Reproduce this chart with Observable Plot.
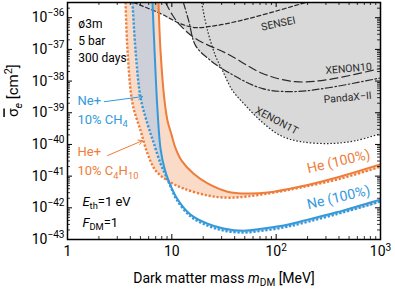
<!DOCTYPE html>
<html><head><meta charset="utf-8">
<script src="https://cdn.jsdelivr.net/npm/d3@7"></script>
<script src="https://cdn.jsdelivr.net/npm/@observablehq/plot@0.6"></script>
<style>
body{margin:0;background:#fff;}
#chart{width:395px;height:289px;}
</style></head><body><div id="chart"></div>
<script>
// ---- data (mass in MeV, log10 of cross-section in cm^2) ----
const massNeSolid = [6.53, 6.83, 7.29, 7.79, 8.51, 9.30, 11.1, 15.1, 22.0, 31.3, 48.7, 75.7, 118, 171, 371, 1000];
const logSigNeSolid = [-35.52, -37.04, -38.93, -40.13, -40.76, -41.14, -41.68, -42.21, -42.50, -42.65, -42.72, -42.65, -42.56, -42.43, -42.15, -41.74];

const massNeMix = [4.20, 4.49, 5.01, 5.72, 6.68, 7.79, 8.90, 9.72, 11.1, 15.1, 22.0, 31.3, 48.7, 75.7, 118, 171, 371, 1000];
const logSigNeMix = [-35.52, -37.04, -38.52, -39.25, -39.94, -40.60, -41.04, -41.33, -41.74, -42.27, -42.56, -42.72, -42.78, -42.72, -42.62, -42.50, -42.21, -41.80];

const massHeSolid = [7.45, 7.79, 8.51, 9.09, 9.93, 10.8, 12.4, 16.1, 22.0, 34.2, 53.2, 82.7, 171, 414, 1000];
const logSigHeSolid = [-35.52, -37.04, -38.62, -39.25, -39.69, -40.10, -40.51, -40.92, -41.23, -41.49, -41.55, -41.52, -41.33, -41.01, -40.63];

const massHeMix = [3.60, 3.76, 4.20, 5.01, 5.85, 6.98, 9.09, 12.9, 22.0, 34.2, 53.2, 94.4, 171, 414, 1000];
const logSigHeMix = [-35.52, -37.04, -38.71, -39.56, -40.29, -40.82, -41.14, -41.39, -41.61, -41.68, -41.64, -41.52, -41.36, -41.08, -40.70];

const massSENSEI = [4.29, 7.79, 12.1, 16.9, 26.2, 45.6, 88.4, 191];
const logSigSENSEI = [-35.52, -35.87, -36.19, -36.31, -36.25, -36.09, -35.84, -35.52];

const massXENON10 = [8.70, 10.2, 12.1, 16.9, 35.0, 74.1, 153, 318, 1000];
const logSigXENON10 = [-35.52, -35.93, -36.25, -36.66, -37.16, -37.76, -38.02, -37.95, -37.60];

const massPandaX = [12.9, 14.5, 16.9, 23.5, 35.0, 74.1, 153, 318, 1000];
const logSigPandaX = [-35.52, -36.09, -36.88, -37.35, -37.73, -38.24, -38.33, -38.21, -37.90];

const massXENON1T = [19.3, 22.0, 26.2, 30.6, 38.2, 50.9, 70.8, 110, 171, 332, 577, 1000];
const logSigXENON1T = [-35.52, -36.41, -37.20, -37.67, -38.30, -38.77, -39.25, -39.72, -39.91, -39.97, -39.88, -39.66];

const xMajor = [1, 10, 100, 1000];
const yMajorExp = [-43, -42, -41, -40, -39, -38, -37, -36];

// ---- build tables ----
const rows = (ms, ls) => ms.map((m, i) => ({m, s: Math.pow(10, ls[i])}));
const neSolid = rows(massNeSolid, logSigNeSolid);
const neMix = rows(massNeMix, logSigNeMix);
const heSolid = rows(massHeSolid, logSigHeSolid);
const heMix = rows(massHeMix, logSigHeMix);
const sensei = rows(massSENSEI, logSigSENSEI);
const xenon10 = rows(massXENON10, logSigXENON10);
const pandax = rows(massPandaX, logSigPandaX);
const xenon1t = rows(massXENON1T, logSigXENON1T);
const heBand = heMix.concat(heSolid.slice().reverse());
const neBand = neMix.concat(neSolid.slice().reverse());

const yMajor = yMajorExp.map(e => Math.pow(10, e));
const yTop = Math.pow(10, -35.52);
const xMinor = [], yMinor = [];
for (const d of [1, 10, 100]) for (let k = 2; k <= 9; k++) xMinor.push(k * d);
for (const e of yMajorExp) for (let k = 2; k <= 9; k++) { const v = k * Math.pow(10, e); if (v < yTop) yMinor.push(v); }

const W = 395, H = 289, ML = 67, MR = 15, MT = 2, MB = 50;
const PW = W - ML - MR, PH = H - MT - MB;
const orange = "#ee7d3a", blue = "#3399dd", ink = "#2a2a2a";

const excl = (d) => Plot.areaY(d, {x: "m", y1: "s", y2: () => 1e-34, fill: "#d9d9d9", curve: "catmull-rom", clip: true});
const xy = {x: "m", y: "s", curve: "catmull-rom", clip: true};

const chart = Plot.plot({
  width: W, height: H,
  marginLeft: ML, marginRight: MR, marginTop: MT, marginBottom: MB,
  style: {fontFamily: "Roboto, sans-serif", background: "white", color: "black", overflow: "visible"},
  x: {type: "log", domain: [1, 1000], label: null, axis: null},
  y: {type: "log", domain: [1e-43, yTop], label: null, axis: null},
  marks: [
    excl(sensei), excl(xenon10), excl(pandax), excl(xenon1t),
    Plot.line(heBand, {...xy, fill: orange, fillOpacity: 0.28, stroke: "none"}),
    Plot.line(neBand, {...xy, fill: "#cdd0d8", stroke: "none"}),
    Plot.line(sensei, {...xy, stroke: ink, strokeWidth: 1.2, strokeDasharray: "4,2.5"}),
    Plot.line(xenon10, {...xy, stroke: ink, strokeWidth: 1.2, strokeDasharray: "8,4"}),
    Plot.line(pandax, {...xy, stroke: ink, strokeWidth: 1.2, strokeDasharray: "7,2.5,1.5,2.5"}),
    Plot.line(xenon1t, {...xy, stroke: ink, strokeWidth: 1.2, strokeDasharray: "1.6,1.8", strokeLinecap: "butt"}),
    Plot.line(heMix, {...xy, stroke: orange, strokeWidth: 2.4, strokeDasharray: "2.2,1.8", strokeLinecap: "butt"}),
    Plot.line(heSolid, {...xy, stroke: orange, strokeWidth: 2}),
    Plot.line(neMix, {...xy, stroke: blue, strokeWidth: 2.4, strokeDasharray: "2.2,1.8", strokeLinecap: "butt"}),
    Plot.line(neSolid, {...xy, stroke: blue, strokeWidth: 2}),
    // arrows
    Plot.arrow([{x1: 2.26, y1: 10 ** -38.65, x2: 5.24, y2: 10 ** -38.49}], {x1: "x1", y1: "y1", x2: "x2", y2: "y2", stroke: blue, strokeWidth: 1, headLength: 7}),
    Plot.arrow([{x1: 2.42, y1: 10 ** -40.35, x2: 5.24, y2: 10 ** -39.88}], {x1: "x1", y1: "y1", x2: "x2", y2: "y2", stroke: orange, strokeWidth: 1, headLength: 7}),
    // curve labels
    Plot.text([0], {x: 105, y: 10 ** -36.19, text: ["SENSEI"], rotate: -12, fontSize: 10.5, fill: ink}),
    Plot.text([0], {x: 494, y: 10 ** -37.61, text: ["XENON10"], rotate: -5, fontSize: 10.5, fill: ink}),
    Plot.text([0], {x: 484, y: 10 ** -38.52, text: ["PandaX\u2212II"], rotate: -5, fontSize: 10.5, fill: ink}),
    Plot.text([0], {x: 101, y: 10 ** -39.25, text: ["XENON1T"], rotate: 28, fontSize: 10.5, fill: ink}),
    Plot.text([0], {x: 396, y: 10 ** -40.54, text: ["He (100%)"], rotate: -13, fontSize: 14, fill: orange}),
    Plot.text([0], {x: 396, y: 10 ** -41.675, text: ["Ne (100%)"], rotate: -13, fontSize: 14, fill: blue}),
    // left annotations
    Plot.text([0], {x: 1.27, y: 10 ** -36.31, text: ["\u00f83m"], textAnchor: "start", lineAnchor: "bottom", fontSize: 12}),
    Plot.text([0], {x: 1.27, y: 10 ** -36.85, text: ["5 bar"], textAnchor: "start", lineAnchor: "bottom", fontSize: 12}),
    Plot.text([0], {x: 1.27, y: 10 ** -37.385, text: ["300 days"], textAnchor: "start", lineAnchor: "bottom", fontSize: 12}),
    Plot.text([0], {x: 1.247, y: 10 ** -38.77, text: ["Ne+"], textAnchor: "start", lineAnchor: "bottom", fontSize: 13, fill: blue}),
    Plot.text([0], {x: 1.247, y: 10 ** -39.34, text: ["10% CH_{4}"], textAnchor: "start", lineAnchor: "bottom", fontSize: 13, fill: blue}),
    Plot.text([0], {x: 1.247, y: 10 ** -40.35, text: ["He+"], textAnchor: "start", lineAnchor: "bottom", fontSize: 13, fill: orange}),
    Plot.text([0], {x: 1.247, y: 10 ** -40.98, text: ["10% C_{4}H_{10}"], textAnchor: "start", lineAnchor: "bottom", fontSize: 13, fill: orange}),
    Plot.text([0], {x: 1.39, y: 10 ** -41.93, text: ["*{E}_{th}=1 eV"], textAnchor: "start", lineAnchor: "bottom", fontSize: 13}),
    Plot.text([0], {x: 1.39, y: 10 ** -42.59, text: ["*{F}_{DM}=1"], textAnchor: "start", lineAnchor: "bottom", fontSize: 13}),
    // ticks (inward, all sides)
    Plot.ruleX(xMajor, {x: d => d, insetTop: PH - 5, strokeWidth: 1}),
    Plot.ruleX(xMajor, {x: d => d, insetBottom: PH - 5, strokeWidth: 1}),
    Plot.ruleX(xMinor, {x: d => d, insetTop: PH - 3, strokeWidth: 0.8}),
    Plot.ruleX(xMinor, {x: d => d, insetBottom: PH - 3, strokeWidth: 0.8}),
    Plot.ruleY(yMajor, {y: d => d, insetRight: PW - 5, strokeWidth: 1}),
    Plot.ruleY(yMajor, {y: d => d, insetLeft: PW - 5, strokeWidth: 1}),
    Plot.ruleY(yMinor, {y: d => d, insetRight: PW - 3, strokeWidth: 0.8}),
    Plot.ruleY(yMinor, {y: d => d, insetLeft: PW - 3, strokeWidth: 0.8}),
    Plot.frame({stroke: "black", strokeWidth: 1.5}),
    // axes labels
    Plot.axisX(xMajor, {tickSize: 0, tickPadding: 7, fontSize: 14,
      tickFormat: d => d === 1 ? "1" : d === 10 ? "10" : `10^{${Math.round(Math.log10(d))}}`}),
    Plot.axisY(yMajor, {tickSize: 0, tickPadding: 3, fontSize: 14,
      tickFormat: d => `10^{\u2212${-Math.round(Math.log10(d))}}`}),
    Plot.text([0], {frameAnchor: "bottom", dy: 43, lineAnchor: "bottom", fontSize: 14, text: ["Dark matter mass *{m}_{DM} [MeV]"]}),
    Plot.text([0], {frameAnchor: "left", dx: -54, dy: -4, rotate: -90, fontSize: 15, text: ["~{\u03c3}%{e} [cm^{2}]"]})
  ]
});
document.getElementById("chart").appendChild(chart);

// rich text: _{sub} ^{sup} *{italic} ~{overline} %{italic sub}
function rich(svg) {
  const re = /([_^*~%])\{([^}]*)\}/g;
  d3.select(svg).selectAll("text").each(function() {
    const el = this;
    const s = el.textContent;
    if (!/[_^*~%]\{/.test(s)) return;
    const fs = parseFloat(getComputedStyle(el).fontSize) || 12;
    while (el.firstChild) el.removeChild(el.firstChild);
    let shift = 0, last = 0, m;
    const add = (txt, kind) => {
      if (!txt) return;
      const t = document.createElementNS("http://www.w3.org/2000/svg", "tspan");
      let target = 0;
      if (kind === "_" || kind === "%") target = 0.25 * fs;
      if (kind === "^") target = -0.42 * fs;
      if (target - shift !== 0) t.setAttribute("dy", (target - shift).toFixed(2));
      shift = target;
      if (kind === "_" || kind === "%" || kind === "^") t.setAttribute("font-size", (0.72 * fs).toFixed(2));
      if (kind === "*" || kind === "%") t.setAttribute("font-style", "italic");
      if (kind === "~") t.setAttribute("style", "text-decoration: overline");
      t.textContent = txt;
      el.appendChild(t);
    };
    re.lastIndex = 0;
    while ((m = re.exec(s))) {
      add(s.slice(last, m.index), "");
      add(m[2], m[1]);
      last = re.lastIndex;
    }
    add(s.slice(last), "");
  });
}
rich(chart);
</script></body></html>
